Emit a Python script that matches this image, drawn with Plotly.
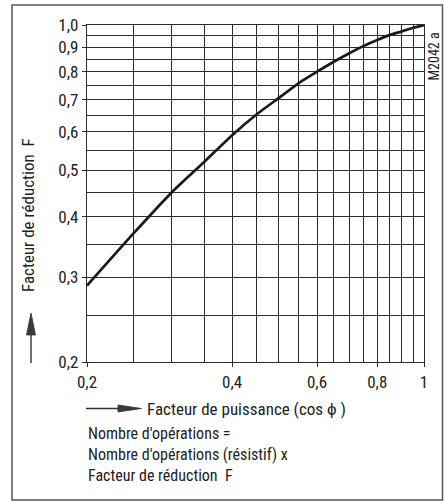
import plotly.graph_objects as go

# Data
power_factor = [0.2, 0.25, 0.3, 0.35, 0.4, 0.45, 0.5, 0.55, 0.6, 0.65, 0.7, 0.75, 0.8, 0.85, 0.9, 0.95, 1.0]
reduction_F = [0.288, 0.370, 0.450, 0.520, 0.591, 0.653, 0.706, 0.758, 0.800, 0.839, 0.874, 0.905, 0.931, 0.954, 0.970, 0.987, 1.0]

grid_vals = [round(0.2 + 0.05 * i, 2) for i in range(17)]
x_tick_vals = [0.2, 0.4, 0.6, 0.8, 1.0]
x_tick_text = ["0,2", "0,4", "0,6", "0,8", "1"]
y_tick_vals = [0.2, 0.3, 0.4, 0.5, 0.6, 0.7, 0.8, 0.9, 1.0]
y_tick_text = ["0,2", "0,3", "0,4", "0,5", "0,6", "0,7", "0,8", "0,9", "1,0"]

W, H = 444, 503
L, R, T, B = 87, 20, 25, 141
PW, PH = W - L - R, H - T - B

def px(x):
    return (x - L) / PW

def py(y):
    return (H - B - y) / PH

FONT = "Liberation Sans Narrow, Arial Narrow, Roboto Condensed, sans-serif"
GRID = "#2b2b2b"
TXT = "#222"

fig = go.Figure()
fig.add_trace(go.Scatter(
    x=power_factor, y=reduction_F, mode="lines",
    line=dict(color="#1a1a1a", width=2.7, shape="spline", smoothing=0.6),
    showlegend=False, hoverinfo="skip",
))

axis_common = dict(
    type="log", showgrid=True, gridcolor=GRID, gridwidth=1.4,
    ticks="outside", ticklen=4, tickcolor=GRID, tickwidth=1.4,
    showline=True, linecolor=GRID, linewidth=1.4, zeroline=False,
    tickfont=dict(family=FONT, size=17, color=TXT),
    mirror=True, range=[-0.69897, 0.0],
)

fig.update_xaxes(
    **axis_common,
    tickvals=x_tick_vals, ticktext=x_tick_text,
    minor=dict(tickvals=grid_vals, showgrid=True, gridcolor=GRID, gridwidth=1.4, ticks=""),
)
fig.update_yaxes(
    **axis_common,
    tickvals=y_tick_vals, ticktext=y_tick_text,
    minor=dict(tickvals=grid_vals, showgrid=True, gridcolor=GRID, gridwidth=1.4, ticks=""),
)

annotations = [
    dict(x=px(28), y=py(215), text="Facteur de réduction  F", textangle=-90,
         xanchor="center", yanchor="middle",
         showarrow=False, font=dict(family=FONT, size=17, color=TXT)),
    dict(x=px(145), y=py(409), text="Facteur de puissance (cos ϕ )",
         xanchor="left", yanchor="middle",
         showarrow=False, font=dict(family=FONT, size=17, color=TXT)),
    dict(x=px(86), y=py(455),
         text="Nombre d'opérations =<br>Nombre d'opérations (résistif) x<br>Facteur de réduction  F",
         xanchor="left", yanchor="middle", align="left",
         showarrow=False, font=dict(family=FONT, size=16, color=TXT)),
    dict(x=px(433.5), y=py(57), text="M2042 a", textangle=-90,
         xanchor="center", yanchor="middle", borderpad=0,
         showarrow=False, font=dict(family=FONT, size=14, color=TXT)),
]
for a in annotations:
    a["xref"] = "paper"
    a["yref"] = "paper"
fig.update_layout(annotations=annotations)

def P(x, y):
    return f"{px(x):.5f},{py(y):.5f}"

shapes = [
    # outer frame
    dict(type="rect", x0=px(12), x1=px(442.5), y0=py(500), y1=py(5),
         line=dict(color="#555", width=1.5)),
    # vertical arrow shaft + head
    dict(type="line", x0=px(31), x1=px(31), y0=py(363), y1=py(333),
         line=dict(color="#333", width=1.4)),
    dict(type="path", path=f"M{P(26.5, 335)} L{P(31, 313)} L{P(35.5, 335)} Z",
         fillcolor="#3a3a3a", line=dict(color="#333", width=0.8)),
    # horizontal arrow shaft + head
    dict(type="line", x0=px(86), x1=px(120), y0=py(408.5), y1=py(408.5),
         line=dict(color="#333", width=1.4)),
    dict(type="path", path=f"M{P(118, 405)} L{P(141.5, 408.5)} L{P(118, 412)} Z",
         fillcolor="#3a3a3a", line=dict(color="#333", width=0.8)),
]
for s in shapes:
    s["xref"] = "paper"
    s["yref"] = "paper"
fig.update_layout(shapes=shapes)

fig.update_layout(
    width=W, height=H,
    margin=dict(l=L, r=R, t=T, b=B),
    paper_bgcolor="white", plot_bgcolor="white",
    font=dict(family=FONT, color=TXT),
)

fig.write_html("out.html", config={"displayModeBar": False},
               post_script="document.body.style.margin='0';")
